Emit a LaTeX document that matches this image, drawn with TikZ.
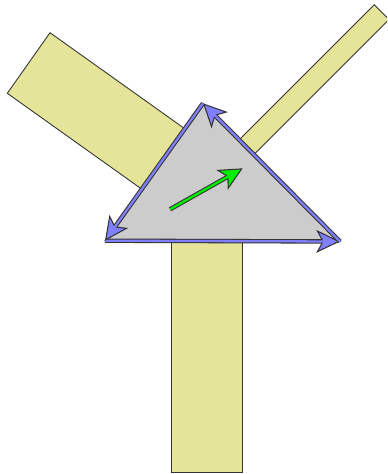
\documentclass[tikz,border=0pt]{standalone}
\usepackage{tikz}
\usetikzlibrary{arrows.meta}
\definecolor{pyellow}{HTML}{E5E59A}
\definecolor{pgray}{HTML}{CCCCCC}
\definecolor{pblue}{HTML}{8080FF}
\definecolor{pgreen}{HTML}{00EE00}
\tikzset{
  % Pale bar with a thin dark stroke.
  bar/.style  = {fill=pyellow, draw=black!80, line width=0.5pt},
  tri/.style  = {fill=pgray, draw=black!80, line width=0.5pt},
  % Outlined arrow: dark wide stroke, coloured core drawn on top.
  vec/.style  = {draw=black!80, line width=2.5pt,
                 -{Stealth[length=13.5pt, width=13pt, inset=3.5pt, fill=#1, line width=0.6pt]},
                 postaction={draw=#1, line width=1.3pt, arrows=-, shorten >=9pt}},
  vec/.default = pblue,
}

\begin{document}
\begin{tikzpicture}[x=0.02cm,y=-0.02cm]
\useasboundingbox (0,0) rectangle (387,474);
\clip (0,0) rectangle (387,474);

% ---- bars -----------------------------------------------------------
\draw[bar] (50,32.7) -- (7.3,93.3) -- (170.1,209.3) -- (212.8,148.7) -- cycle;
\draw[bar] (374.3,4.7) -- (389,19.4) -- (233.5,174.9) -- (218.7,160.2) -- cycle;
\draw[bar] (171,200) rectangle (242,472);

% ---- triangle -------------------------------------------------------
\coordinate (pL) at (105,240.7);
\coordinate (pT) at (203,103.3);
\coordinate (pR) at (340,241.5);
\draw[tri] (pL) -- (pR) -- (pT) -- cycle;

% ---- velocity -------------------------------------------------------
\coordinate (vs) at (170,209.3);
\coordinate (ve) at (242.7,168.3);
\draw[vec=pgreen] (vs) -- (ve);

% ---- edge arrows ----------------------------------------------------
\draw[vec] (pL) -- (pR);
\draw[vec] (pR) -- (pT);
\draw[vec] (pT) -- (pL);
\end{tikzpicture}
\end{document}
